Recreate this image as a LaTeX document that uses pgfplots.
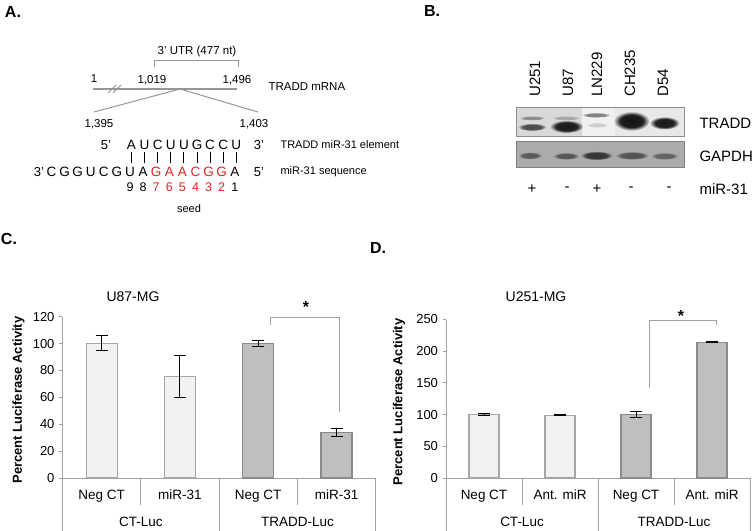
\documentclass[border=0pt]{standalone}
\usepackage{fontspec}
\setmainfont{Liberation Sans}
\usepackage{pgfplots}
\pgfplotsset{compat=1.18}
\usetikzlibrary{fadings}

\definecolor{axgray}{RGB}{160,160,160}
\definecolor{lightfill}{RGB}{242,242,242}
\definecolor{lightedge}{RGB}{165,165,165}
\definecolor{darkfill}{RGB}{191,191,191}
\definecolor{darkedge}{RGB}{138,138,138}
\definecolor{seedred}{RGB}{225,35,40}
\definecolor{linegray}{RGB}{150,150,150}

\newcommand{\fs}[1]{\fontsize{#1}{#1}\selectfont}

% soft blot band
\pgfdeclareradialshading{bandshade}{\pgfpointorigin}{color(0bp)=(pgftransparent!0); color(16bp)=(pgftransparent!5); color(25bp)=(pgftransparent!100); color(50bp)=(pgftransparent!100)}
\pgfdeclarefading{band}{\pgfuseshading{bandshade}}
\newcommand{\band}[5]{\fill[#5, path fading=band] (#1,#2) ellipse ({1.2*#3} and {1.3*#4});}

\pgfplotsset{
  lucstyle/.style={
    scale only axis, xmin=-0.5, xmax=3.5, ymin=0,
    axis x line*=bottom, axis y line*=left,
    axis line style={axgray, line width=1pt},
    tick align=outside, major tick length=3.5pt,
    ytick style={axgray, line width=1pt},
    xtick={0,1,2,3}, xtick style={draw=none},
    xticklabel style={font=\fs{13.5}, yshift=-5pt},
    yticklabel style={font=\fs{13}, xshift=-1pt},
    /pgf/number format/assume math mode=true,
    clip=false,
  },
  errs/.style={
    error bars/y dir=both, error bars/y explicit,
    error bars/error bar style={black, line width=1pt},
    error bars/error mark options={black, line width=1pt, mark size=6pt, rotate=90}},
  lightbars/.style={ybar, bar shift=0pt, fill=lightfill, draw=lightedge, line width=1.2pt, errs},
  darkbars/.style={ybar, bar shift=0pt, fill=darkfill, draw=darkedge, line width=1.2pt, errs},
}

\begin{document}
\begin{tikzpicture}[x=1pt,y=1pt]
\useasboundingbox (0,0) rectangle (754,530);
\clip (0,0) rectangle (754,530);
\fill[white] (0,0) rectangle (754,530);

\begin{scope}[shift={(0,530)}, y=-1pt]
  % ---------- panel A
  \node[font=\bfseries\fs{16}] at (13,12) {A.};
  \draw[linegray, line width=1pt] (154,67) -- (154,61) -- (238,61) -- (238,67);
  \node[font=\fs{11.5}] at (197,52) {3' UTR (477 nt)};
  \node[font=\fs{11.5}] at (94,79) {1};
  \node[font=\fs{11.5}] at (152,80) {1,019};
  \node[font=\fs{11.5}] at (237,80) {1,496};
  \draw[linegray, line width=2pt] (93,89) -- (237,89);
  \draw[linegray, line width=0.8pt] (108,93) -- (116,85) (113,93) -- (121,85);
  \node[font=\fs{11.5}, anchor=west] at (265,87) {TRADD mRNA};
  \draw[linegray, line width=1pt] (94,112) -- (180,89) -- (258,112);
  \node[font=\fs{11.5}] at (99,124) {1,395};
  \node[font=\fs{11.5}] at (254,124) {1,403};

  \node[font=\fs{13}] at (106,145) {5'};
  \node[font=\fs{13}] at (259,145) {3'};
  \foreach \l [count=\k from 0] in {A,U,C,U,U,G,C,C,U}{
    \node[font=\fs{13.5}] at ({131.5+13.1*\k},145) {\l};
    \draw[line width=1pt] ({131.5+13.1*\k},152) -- ({131.5+13.1*\k},163);
  }
  \node[font=\fs{13}] at (39,172) {3'};
  \node[font=\fs{13}] at (259,172) {5'};
  \foreach \l [count=\k from -6] in {C,G,G,U,C,G,U,A}{
    \node[font=\fs{13.5}] at ({130+13.1*\k},172) {\l};
  }
  \foreach \l [count=\k from 2] in {G,A,A,C,G,G}{
    \node[font=\fs{13.5}, text=seedred] at ({130+13.1*\k},172) {\l};
  }
  \node[font=\fs{13.5}] at ({130+13.1*8},172) {A};
  \node[font=\fs{12.5}] at (130,187) {9};
  \node[font=\fs{12.5}] at ({130+13.1},187) {8};
  \foreach \l [count=\k from 2] in {7,6,5,4,3,2}{
    \node[font=\fs{12.5}, text=seedred] at ({130+13.1*\k},187) {\l};
  }
  \node[font=\fs{12.5}] at ({130+13.1*8},187) {1};
  \node[font=\fs{11}] at (189,209) {seed};
  \node[font=\fs{11}, anchor=west] at (277,145) {TRADD miR-31 element};
  \node[font=\fs{11}, anchor=west] at (277,172) {miR-31 sequence};

  % ---------- panel B
  \node[font=\bfseries\fs{16}] at (432,11) {B.};
  \foreach \x/\t in {535/U251, 568/U87, 597/LN229, 630/CH235, 663/D54}{
    \node[font=\fs{15}, rotate=90, anchor=west, inner sep=0pt] at (\x,97) {\t};
  }
  \fill[black!15] (516,108) rectangle (582,137);
  \fill[black!6] (582,108) rectangle (615,137);
  \fill[black!9] (615,108) rectangle (684,137);
  \band{532}{118}{11}{1.8}{black!45}
  \band{532}{127}{12}{3}{black!70}
  \band{566}{118}{12}{1.8}{black!35}
  \band{566.5}{126.5}{14}{5}{black!90}
  \band{596}{115}{12}{2}{black!50}
  \band{597}{125}{9}{2}{black!20}
  \band{631.5}{121}{15}{7.5}{black!92}
  \band{664.5}{123}{12.5}{5}{black!90}
  \draw[black!45, line width=1pt] (516,108) rectangle (684,137);
  \fill[black!33] (516,142) rectangle (684,168);
  \band{530}{155.5}{10}{2.8}{black!65}
  \band{566}{156}{11}{2.8}{black!66}
  \band{596.5}{155.5}{13.5}{3.5}{black!80}
  \band{632}{155.5}{14}{3.2}{black!68}
  \band{664.5}{156}{11.5}{2.8}{black!62}
  \draw[black!50, line width=1pt] (516,142) rectangle (684,168);
  \node[font=\fs{15}, anchor=west] at (696,123) {TRADD};
  \node[font=\fs{15}, anchor=west] at (696,156) {GAPDH};
  \node[font=\fs{15}, anchor=west] at (696,189) {miR-31};
  \foreach \x/\s in {532/+, 567/-, 597/+, 631/-, 669/-}{
    \node[font=\fs{15}] at (\x,189) {\s};
  }

  % ---------- panel labels C, D and titles
  \node[font=\bfseries\fs{16}] at (9,239) {C.};
  \node[font=\bfseries\fs{16}] at (378,248) {D.};
  \node[font=\fs{14}] at (133,297) {U87-MG};
  \node[font=\fs{14}] at (536,297) {U251-MG};
\end{scope}

% ---------- panel C
\begin{axis}[lucstyle, at={(62.5pt,52pt)}, anchor=south west,
  width=313.2pt, height=161.3pt, ymax=120, ytick={0,20,...,120},
  xticklabels={Neg CT, miR-31, Neg CT, miR-31},
  ylabel={Percent Luciferase Activity},
  every axis y label/.style={at={(axis description cs:-0.1405,0.4836)}, rotate=90, anchor=center, font=\bfseries\fs{13}},
]
\addplot[lightbars, bar width=31pt] coordinates {(0,100) += (0,6) -= (0,5) (1,75.5) +- (0,15.5)};
\addplot[darkbars, bar width=31pt] coordinates {(2,100) +- (0,2) (3,34) +- (0,3)};
\draw[axgray, line width=1pt] (axis cs:0.5,0) -- ++(0pt,-27pt) (axis cs:2.5,0) -- ++(0pt,-27pt);
\draw[axgray, line width=1pt] (axis cs:-0.5,0) -- ++(0pt,-60pt) (axis cs:1.5,0) -- ++(0pt,-60pt) (axis cs:3.5,0) -- ++(0pt,-60pt);
\node[font=\fs{13.5}] at (axis cs:0.5,0) [yshift=-44pt] {CT-Luc};
\node[font=\fs{13.5}] at (axis cs:2.5,0) [yshift=-44pt] {TRADD-Luc};
\end{axis}

% ---------- panel D
\begin{axis}[lucstyle, at={(446pt,52pt)}, anchor=south west,
  width=304pt, height=158.5pt, ymax=250, ytick={0,50,...,250},
  xticklabels={Neg CT, Ant. miR, Neg CT, Ant. miR},
  ylabel={Percent Luciferase Activity},
  every axis y label/.style={at={(axis description cs:-0.1546,0.48)}, rotate=90, anchor=center, font=\bfseries\fs{13}},
]
\addplot[lightbars, bar width=30pt] coordinates {(0,100) +- (0,2) (1,99) +- (0,1)};
\addplot[darkbars, bar width=30pt] coordinates {(2,100) +- (0,4.5) (3,214) +- (0,1)};
\draw[axgray, line width=1pt] (axis cs:0.5,0) -- ++(0pt,-27pt) (axis cs:2.5,0) -- ++(0pt,-27pt);
\draw[axgray, line width=1pt] (axis cs:-0.5,0) -- ++(0pt,-60pt) (axis cs:1.5,0) -- ++(0pt,-60pt) (axis cs:3.5,0) -- ++(0pt,-60pt);
\node[font=\fs{13.5}] at (axis cs:0.5,0) [yshift=-44pt] {CT-Luc};
\node[font=\fs{13.5}] at (axis cs:2.5,0) [yshift=-44pt] {TRADD-Luc};
\end{axis}

% ---------- significance brackets
\begin{scope}[shift={(0,530)}, y=-1pt]
  \draw[axgray, line width=1pt] (270,325) -- (270,318) -- (339,318) -- (339,412);
  \node[font=\bfseries\fs{16}] at (306,307) {*};
  \draw[axgray, line width=1pt] (649,388) -- (649,321) -- (716,321) -- (716,325);
  \node[font=\bfseries\fs{16}] at (681,316) {*};
\end{scope}
\end{tikzpicture}
\end{document}
